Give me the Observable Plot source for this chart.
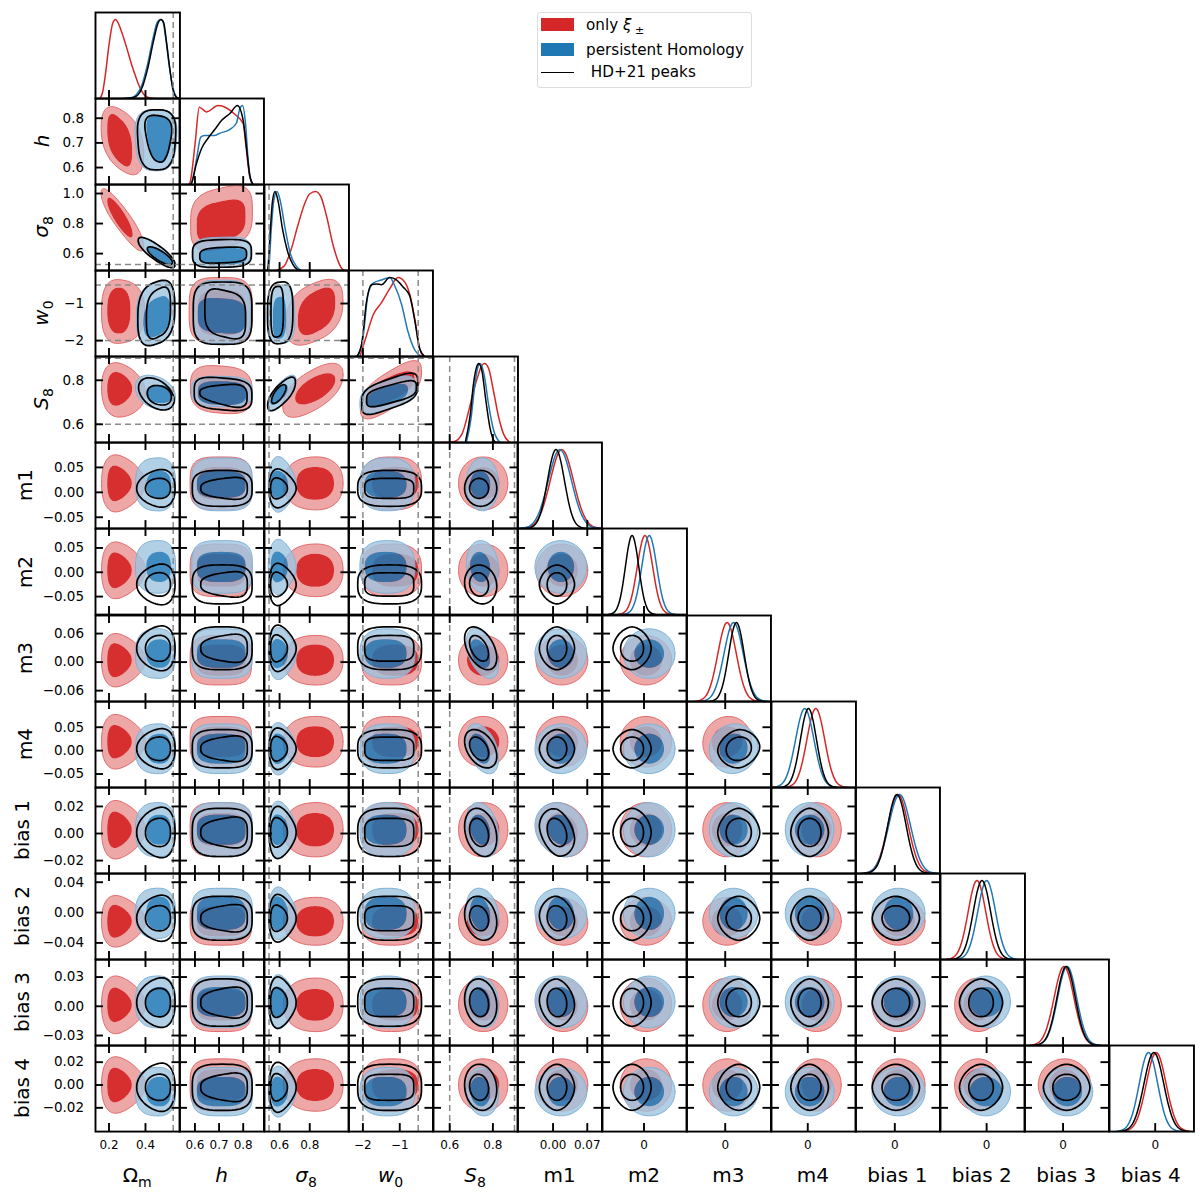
<!DOCTYPE html>
<html>
<head>
<meta charset="utf-8">
<script src="https://cdn.jsdelivr.net/npm/d3@7"></script>
<script src="https://cdn.jsdelivr.net/npm/@observablehq/plot@0.6"></script>
<style>
html,body{margin:0;padding:0;background:#fff;font-family:"DejaVu Sans",sans-serif;color:#000}
#chart{position:relative;width:1200px;height:1198px;overflow:hidden}
.lab{position:absolute;font-size:20px;white-space:nowrap;line-height:1}
.lab sub{font-size:14px;line-height:0}
.lab i{font-style:italic}
#legend{position:absolute;left:537px;top:12px;width:213px;height:74px;border:1px solid #ddd;border-radius:3px;background:#fff;font-size:15.2px;z-index:5}
#legend div{position:absolute;white-space:pre;line-height:1}
#legend sub{font-size:11px;line-height:0}
</style>
</head>
<body>
<div id="chart"></div>
<script>
// ---- layout of the grid
const colLeft = 95, colW = 84.46, rowTop = 12, rowH = 86.08;

// ---- parameter names and scales
const xDomains = [[.126,.589],[.536,.886],[.5,1.06],[-2.39,-.1],[.525,.916],[-.0727,.1],[-.087,.09],[-.083,.098],[-.079,.105],[-.0296,.034],[-.062,.0515],[-.0403,.048],[-.0408,.0346]];
const yDomains = [[0,1.09],[.531,.88],[.487,1.06],[-2.43,-.11],[.517,.908],[-.0727,.1],[-.087,.09],[-.083,.098],[-.079,.105],[-.0296,.034],[-.062,.0515],[-.0403,.048],[-.0408,.0346]];
const diagDomain = [0,1.09];
const xTicks = [[.2,.4],[.6,.7,.8],[.6,.8],[-2,-1],[.6,.8],[0,.07],[0],[0],[0],[0],[0],[0],[0]];
const xTickText = [["0.2","0.4"],["0.6","0.7","0.8"],["0.6","0.8"],["−2","−1"],["0.6","0.8"],["0.00","0.07"],["0"],["0"],["0"],["0"],["0"],["0"],["0"]];
const yTicks = [[],[.6,.7,.8],[.6,.8,1],[-2,-1],[.6,.8],[-.05,0,.05],[-.05,0,.05],[-.06,0,.06],[-.05,0,.05],[-.02,0,.02],[-.04,0,.04],[-.03,0,.03],[-.02,0,.02]];
const yTickText = [[],["0.6","0.7","0.8"],["0.6","0.8","1.0"],["−2","−1"],["0.6","0.8"],["−0.05","0.00","0.05"],["−0.05","0.00","0.05"],["−0.06","0.00","0.06"],["−0.05","0.00","0.05"],["−0.02","0.00","0.02"],["−0.04","0.00","0.04"],["−0.03","0.00","0.03"],["−0.02","0.00","0.02"]];
const priorsX = [[.552],[],[.53],[-2,-.5],[.6,.9],[],[],[],[],[],[],[],[]];
const priorsY = [[],[],[.527],[-2,-.5],[.6,.9],[],[],[],[],[],[],[],[]];
const axisNames = ["Ω<sub>m</sub>","<i>h</i>","<i>σ</i><sub>8</sub>","<i>w</i><sub>0</sub>","<i>S</i><sub>8</sub>","m1","m2","m3","m4","bias 1","bias 2","bias 3","bias 4"];
const yNameX = [0,42,41,41,41,25,25,25,25,22,22,22,22];

// ---- 1D posteriors read from the diagonal: [value, height]
const om_red = [[.15,0],[.165,.08],[.18,.3],[.2,.68],[.22,.95],[.236,1],[.25,.96],[.27,.84],[.3,.62],[.32,.46],[.34,.32],[.36,.19],[.38,.09],[.4,.03],[.43,.005],[.45,0]];
const om_blue = [[.28,0],[.32,.01],[.35,.05],[.38,.17],[.41,.42],[.445,.8],[.465,.97],[.482,1],[.495,.98],[.51,.78],[.53,.42],[.55,.14],[.57,.02],[.58,0]];
const om_black = [[.29,0],[.33,.01],[.36,.05],[.385,.16],[.41,.36],[.445,.74],[.465,.93],[.485,1],[.5,.96],[.515,.72],[.535,.35],[.55,.12],[.57,.015],[.585,0]];
const h_red = [[.572,0],[.579,.02],[.6,.5],[.618,.98],[.648,.92],[.696,1],[.731,.97],[.765,.89],[.8,.77],[.811,.5],[.827,.1],[.841,0]];
const h_blue = [[.58,0],[.586,.02],[.607,.33],[.624,.6],[.64,.62],[.68,.62],[.703,.65],[.745,.7],[.772,.78],[.786,.96],[.797,1],[.81,.76],[.821,.29],[.834,.03],[.842,0]];
const h_black = [[.58,0],[.586,.02],[.605,.25],[.628,.46],[.655,.59],[.683,.7],[.71,.81],[.745,.9],[.776,1],[.8,.81],[.814,.46],[.827,.12],[.841,0]];
const s8_red = [[.577,0],[.632,.06],[.677,.27],[.721,.57],[.765,.84],[.799,.97],[.839,1],[.877,.92],[.91,.7],[.955,.32],[.988,.12],[1.021,.01],[1.043,0]];
const s8_blue = [[.515,0],[.527,.02],[.545,.53],[.561,.88],[.583,1],[.605,.88],[.637,.53],[.672,.21],[.71,.06],[.743,0]];
const s8_black = [[.51,0],[.521,.02],[.539,.53],[.553,.88],[.57,1],[.59,.88],[.619,.53],[.655,.23],[.688,.08],[.721,.01],[.74,0]];
const w0_red = [[-2.08,0],[-1.9,.27],[-1.72,.53],[-1.5,.68],[-1.27,.86],[-1.05,1],[-.86,.94],[-.73,.79],[-.59,.47],[-.46,.1],[-.35,0]];
const w0_blue = [[-2.13,0],[-2,.23],[-1.86,.79],[-1.72,.93],[-1.5,.97],[-1.27,1],[-1.14,.9],[-.95,.66],[-.78,.32],[-.59,.08],[-.41,0]];
const w0_black = [[-2.17,0],[-2.04,.14],[-1.9,.7],[-1.77,.91],[-1.63,.92],[-1.5,.91],[-1.27,1],[-1.09,.97],[-.91,.88],[-.73,.77],[-.59,.45],[-.46,.1],[-.32,0]];
const S8_red = [[.557,0],[.618,.01],[.657,.11],[.687,.39],[.71,.65],[.734,.87],[.749,.98],[.761,1],[.78,.94],[.803,.65],[.826,.33],[.849,.11],[.88,0]];
const S8_blue = [[.677,0],[.699,.31],[.715,.7],[.729,.94],[.741,1],[.76,.85],[.78,.48],[.803,.16],[.834,0]];
const S8_black = [[.672,0],[.695,.35],[.71,.74],[.725,.96],[.734,1],[.749,.91],[.768,.52],[.787,.18],[.81,.01],[.825,0]];
const curves1D = [[om_red,om_blue,om_black],[h_red,h_blue,h_black],[s8_red,s8_blue,s8_black],[w0_red,w0_blue,w0_black],[S8_red,S8_blue,S8_black]];

// nuisance marginals: peak and half width at half maximum, m1 ... bias 4
const peakRed   = [.018,.002,.004,.0175,.0024,-.013,.001,.0009];
const peakBlue  = [.014,.011,.018,-.0065,.0036,0,.0043,-.006];
const peakBlack = [.006,-.025,.024,.0015,.0016,-.0063,.0032,-.0012];
const hwhmRed   = [.028,.019,.0233,.0229,.0091,.0139,.0122,.0104];
const hwhmBlue  = [.028,.0185,.0243,.0236,.0097,.0141,.0117,.0097];
const hwhmBlack = [.0205,.0165,.0195,.0207,.0082,.0137,.0113,.0104];
const bellOffset = [-3,-2.5,-2,-1.75,-1.5,-1.25,-1,-.75,-.5,-.25,0,.25,.5,.75,1,1.25,1.5,1.75,2,2.5,3];
const bellHeight = [.002,.013,.0625,.12,.21,.339,.5,.677,.841,.958,1,.958,.841,.677,.5,.339,.21,.12,.0625,.013,.002];

// ---- 2D contour summaries. Nuisance parameters: centre and 68/95 half widths
const cRed   = [.018,.004,.004,.019,.0028,-.0115,.0015,0];
const cBlue  = [.016,.011,.018,.004,.0028,-.001,.0045,-.0058];
const cBlack = [.008,-.025,.029,.004,.0008,-.0075,.0038,-.002];
const a68Red   = [.033,.034,.033,.033,.0124,.02,.0163,.014];
const a95Red   = [.053,.054,.052,.054,.02,.0315,.0274,.0229];
const a68Blue  = [.027,.031,.03,.032,.0111,.022,.0154,.0129];
const a95Blue  = [.053,.054,.052,.053,.02,.033,.0265,.0212];
const a68Black = [.02,.024,.027,.025,.0104,.0165,.0145,.0114];
const a95Black = [.036,.04,.045,.041,.0178,.029,.0243,.0202];
const s8Tilt = [0,-.1,-.45,-.4,-.25,-.2,-.15,-.1];
const pairTilt = {"5,9":-.28,"5,10":-.12,"5,11":-.1,"7,8":.1};

// Cosmological columns against nuisance rows: [xmin,xmax,n,ex,ey], 95 then 68, per series
const colOm = [[[.159,.4,2.2,0,-.38],[.19,.325,2.3,0,-.38]],[[.345,.565,2.6,0,.05],[.404,.54,2.4,0,.05]],[[.352,.562,2.2,0,.28],[.4,.537,2.2,0,.1]]];
const colH  = [[[.58,.835,3.5,0,0],[.607,.81,3.3,0,0]],[[.587,.838,3.5,0,0],[.608,.81,3,0,0]],[[.589,.837,3.2,0,0],[.624,.817,3,0,.3]]];
const colS8s = [[[.625,1.021,2.3,0,.05],[.71,.961,2.3,0,0]],[[.525,.71,2,0,-.35],[.54,.655,2.2,0,-.2]],[[.53,.71,2.1,0,-.42],[.54,.652,2.2,0,-.3]]];
const colW0 = [[[-2.03,-.41,2.8,0,0],[-1.75,-.5,2.6,0,0]],[[-2.08,-.59,2.6,0,0],[-1.95,-.82,2.6,0,0]],[[-2.14,-.41,3,0,0],[-1.95,-.62,3.6,0,0]]];
const colS8 = [[[.641,.869,2.1,0,0],[.68,.83,2,0,0]],[[.677,.826,2.1,0,0],[.695,.787,2,0,0]],[[.669,.818,2,0,0],[.692,.78,2,0,0]]];
const colShapes = [colOm,colH,colS8s,colW0,colS8];

// Cosmological pairs: [xmin,xmax,ymin,ymax,rho,n,ex,ey], 95 then 68, per series
const om_h = [[[.157,.39,.576,.842,-.4,2.4,0,0],[.19,.327,.61,.811,-.45,2.6,0,0]],[[.345,.57,.587,.835,0,3,.1,0],[.41,.54,.62,.811,-.1,2.8,.3,0]],[[.358,.564,.591,.834,0,3,.1,0],[.404,.537,.623,.811,-.1,2.8,.35,0]]];
const om_s8 = [[[.157,.39,.625,1.025,-.88,2.3,0,0],[.19,.33,.709,.971,-.85,2.1,0,0]],[[.358,.564,.509,.705,-.82,2.1,0,0],[.41,.546,.527,.647,-.78,2,0,0]],[[.36,.562,.509,.705,-.82,2.2,0,0],[.41,.548,.527,.645,-.78,2,0,0]]];
const h_s8 = [[[.582,.838,.631,1.042,.22,3.2,0,0],[.607,.81,.682,.953,.25,3.2,0,0]],[[.593,.83,.509,.709,.05,3.6,0,0],[.62,.816,.527,.638,.05,3.2,0,0]],[[.59,.834,.509,.693,.05,3.6,0,0],[.62,.814,.538,.642,.15,3.4,0,0]]];
const om_w0 = [[[.159,.395,-2.06,-.37,0,2.6,0,-.12],[.19,.318,-1.81,-.57,0,2.4,0,0]],[[.35,.564,-2.11,-.42,.15,2.6,0,0],[.389,.537,-1.9,-.82,.3,2.6,0,0]],[[.358,.56,-2.11,-.4,.2,2.8,0,0],[.405,.537,-1.92,-.59,.25,3,0,0]]];
const h_w0 = [[[.576,.838,-2.08,-.3,0,3.6,0,0],[.61,.81,-1.86,-.64,0,3.4,0,0]],[[.593,.83,-2.08,-.37,0,3.6,0,0],[.612,.81,-1.8,-.86,-.1,3.4,0,0]],[[.593,.836,-2.1,-.42,0,3.8,0,0],[.641,.81,-1.92,-.64,-.2,3.4,0,0]]];
const s8_w0 = [[[.643,1.02,-2.08,-.39,.36,2.6,0,0],[.721,.97,-1.82,-.6,.4,2.6,0,0]],[[.525,.7,-2.08,-.5,.05,3,-.1,0],[.555,.643,-1.95,-.82,.05,3,0,0]],[[.52,.688,-2.08,-.42,.05,3,0,0],[.543,.625,-1.9,-.54,.05,3.2,0,0]]];
const om_S8 = [[[.159,.4,.634,.872,-.1,2.2,0,-.25],[.19,.327,.688,.834,0,2.2,0,-.3]],[[.345,.564,.668,.822,-.3,2.2,0,0],[.404,.546,.696,.78,-.1,2.4,0,0]],[[.362,.557,.665,.811,-.4,2,0,0],[.41,.542,.688,.776,-.2,2.2,0,0]]];
const h_S8 = [[[.581,.837,.65,.865,-.1,3,0,0],[.61,.81,.688,.818,-.05,3,0,0]],[[.586,.837,.68,.818,-.05,3.2,0,0],[.612,.814,.688,.795,-.05,3,0,0]],[[.597,.836,.665,.811,-.15,3.4,0,0],[.62,.816,.688,.78,-.2,3,0,.4]]];
const s8_S8 = [[[.621,1.021,.637,.872,.6,2.3,0,0],[.703,.97,.691,.831,.6,2.1,0,0]],[[.521,.71,.665,.822,.72,2.1,0,0],[.537,.655,.688,.78,.7,2,0,0]],[[.521,.705,.665,.811,.72,2.3,0,0],[.547,.643,.695,.78,.7,2,0,0]]];
const w0_S8 = [[[-2.07,-.41,.637,.877,.68,2.8,0,0],[-1.9,-.6,.69,.835,.65,2.6,0,0]],[[-2.08,-.59,.657,.812,.5,3,0,0],[-1.9,-.78,.68,.78,.55,2.6,0,0]],[[-2.03,-.51,.657,.82,.55,3.6,0,0],[-1.9,-.55,.688,.79,.6,3.6,0,0]]];
const cosmoPairs = {"0,1":om_h,"0,2":om_s8,"1,2":h_s8,"0,3":om_w0,"1,3":h_w0,"2,3":s8_w0,"0,4":om_S8,"1,4":h_S8,"2,4":s8_S8,"3,4":w0_S8};

// ---- colours
const lineColors = ["#d62728","#1f77b4","#000000"];
const fill95 = ["#e89191","#9dc3de"], fill68 = ["#d62728","#1f77b4"];
const edge95 = ["#e2696b","#7fb1d6"];
const opacity95 = [.8,.8], opacity68 = [.97,.85];

const centres = [cRed,cBlue,cBlack], a68s = [a68Red,a68Blue,a68Black], a95s = [a95Red,a95Blue,a95Black];
const peaks = [peakRed,peakBlue,peakBlack], hwhms = [hwhmRed,hwhmBlue,hwhmBlack];

// Outline of one confidence region from its read-off extents and shape numbers
function outline([x0,x1,y0,y1,rho,n,ex,ey]) {
  const cx=(x0+x1)/2, cy=(y0+y1)/2, a=(x1-x0)/2, b=(y1-y0)/2, s=Math.sqrt(1-rho*rho);
  return d3.range(0,73).map(i=>{
    const t=i/72*2*Math.PI, ct=Math.cos(t), st=Math.sin(t);
    const u=Math.sign(ct)*Math.pow(Math.abs(ct),2/n), v=Math.sign(st)*Math.pow(Math.abs(st),2/n);
    return {x:cx+a*u*(1+ex*v), y:cy+b*(rho*u+s*v*(1+ey*u))};
  });
}
// spec of series k, level l (0 = 95%, 1 = 68%) in panel col c, row r
function spec(k,l,c,r) {
  const key=c+","+r;
  if (cosmoPairs[key]) return cosmoPairs[key][k][l];
  const ar=l?a68s[k]:a95s[k], ry=r-5, cy=centres[k][ry], by=ar[ry];
  if (c<5) {
    const [x0,x1,n,ex,ey]=colShapes[c][k][l];
    const rho=c===4&&k>0?s8Tilt[ry]:0;
    return [x0,x1,cy-by,cy+by,rho,n,ex,ey];
  }
  const cx=centres[k][c-5], bx=ar[c-5];
  const n=k===2?(l?2.05:1.75):2;
  return [cx-bx,cx+bx,cy-by,cy+by,(pairTilt[key]||0)*(k===2?1:.6),n,0,0];
}

const tickLen=8, spine=1.9;
function panel(r,c) {
  const diag=r===c;
  const dx=xDomains[c], dy=diag?diagDomain:yDomains[r], marks=[];
  const fy=tickLen/rowH*(dy[1]-dy[0]), fx=tickLen/colW*(dx[1]-dx[0]);
  if (diag) {
    [0,1,2].forEach(k=>{
      const pts=c<5?curves1D[c][k].map(([x,y])=>({x,y})):bellOffset.map((z,i)=>({x:peaks[k][c-5]+z*hwhms[k][c-5],y:bellHeight[i]}));
      marks.push(Plot.line(pts,{x:"x",y:"y",stroke:lineColors[k],strokeWidth:1.5,curve:"monotone-x",clip:true}));
    });
  } else {
    [0,1].forEach(k=>{
      const o=outline(spec(k,0,c,r)), i=outline(spec(k,1,c,r));
      // the 95% band is a ring: the 68% outline runs the other way and cuts the hole
      marks.push(Plot.line([...o,...i.slice().reverse()],{x:"x",y:"y",fill:fill95[k],fillOpacity:opacity95[k],stroke:"none",curve:"linear",clip:true}));
      marks.push(Plot.line(i,{x:"x",y:"y",fill:fill68[k],fillOpacity:opacity68[k],stroke:"none",curve:"linear",clip:true}));
      marks.push(Plot.line(o,{x:"x",y:"y",stroke:edge95[k],strokeWidth:1,curve:"linear",clip:true}));
    });
    [0,1].forEach(l=>marks.push(Plot.line(outline(spec(2,l,c,r)),{x:"x",y:"y",stroke:"#000",strokeWidth:1.7,curve:"linear",clip:true})));
  }
  const dash={stroke:"#8a8a8a",strokeWidth:1.5,strokeDasharray:"6,4"};
  if (priorsX[c].length) marks.push(Plot.ruleX(priorsX[c],dash));
  if (!diag && priorsY[r].length) marks.push(Plot.ruleY(priorsY[r],dash));
  const tick={stroke:"#000",strokeWidth:spine};
  marks.push(Plot.ruleX(xTicks[c],{...tick,y1:dy[0],y2:dy[0]+fy}));
  if (!diag) {
    marks.push(Plot.ruleX(xTicks[c],{...tick,y1:dy[1],y2:dy[1]-fy}));
    marks.push(Plot.ruleY(yTicks[r],{...tick,x1:dx[0],x2:dx[0]+fx}));
    marks.push(Plot.ruleY(yTicks[r],{...tick,x1:dx[1],x2:dx[1]-fx}));
  }
  marks.push(Plot.frame({stroke:"#000",strokeWidth:spine}));
  if (r===12) marks.push(Plot.text(xTicks[c],{x:d=>d,frameAnchor:"bottom",lineAnchor:"middle",dy:14,text:(d,i)=>xTickText[c][i],fontSize:12,fill:"#000"}));
  if (c===0 && r>0) marks.push(Plot.text(yTicks[r],{y:d=>d,frameAnchor:"left",textAnchor:"end",dx:-11.5,text:(d,i)=>yTickText[r][i],fontSize:13.5,fill:"#000"}));
  return Plot.plot({
    width:colW,height:rowH,margin:0,
    x:{domain:dx,axis:null},y:{domain:dy,axis:null},
    style:{position:"absolute",left:(colLeft+c*colW)+"px",top:(rowTop+r*rowH)+"px",overflow:"visible",background:"transparent",maxWidth:"none",fontFamily:"DejaVu Sans",width:colW+"px",height:rowH+"px"},
    marks
  });
}

const root=document.getElementById("chart");
for (let r=0;r<13;r++) for (let c=0;c<=r;c++) root.appendChild(panel(r,c));

// ---- axis names
axisNames.forEach((name,i)=>{
  const b=document.createElement("div");
  b.className="lab"; b.innerHTML=name;
  b.style.left=(colLeft+(i+.5)*colW)+"px"; b.style.top="1175px"; b.style.transform="translate(-50%,-50%)";
  root.appendChild(b);
  if (i>0) {
    const l=document.createElement("div");
    l.className="lab"; l.innerHTML=name;
    l.style.left=yNameX[i]+"px"; l.style.top=(rowTop+(i+.5)*rowH)+"px"; l.style.transform="translate(-50%,-50%) rotate(-90deg)";
    root.appendChild(l);
  }
});

// ---- legend
const legendRows=[["only <i>ξ</i><sub> ±</sub>",48,5],["persistent Homology",48,30],[" HD+21 peaks",48,52]];
const leg=document.createElement("div"); leg.id="legend";
legendRows.forEach(([t,x,y])=>{const d=document.createElement("div");d.innerHTML=t;d.style.left=x+"px";d.style.top=y+"px";leg.appendChild(d);});
[["#d62728",5],["#1f77b4",30]].forEach(([col,y])=>{const s=document.createElement("div");s.style.cssText=`left:3px;top:${y}px;width:33px;height:13px;background:${col}`;leg.appendChild(s);});
const ln=document.createElement("div");ln.style.cssText="left:3px;top:59px;width:33px;height:1.3px;background:#000";leg.appendChild(ln);
root.appendChild(leg);
</script>
</body>
</html>
